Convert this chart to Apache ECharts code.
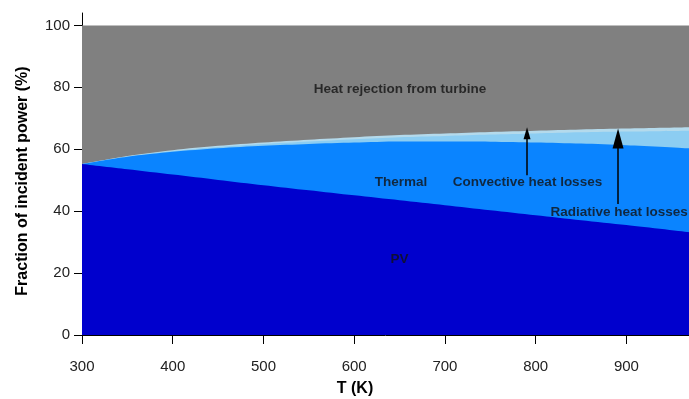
<!DOCTYPE html>
<html>
<head>
<meta charset="utf-8">
<script src="https://cdn.jsdelivr.net/npm/echarts@6/dist/echarts.min.js"></script>
<style>html,body{margin:0;padding:0;background:#fff}#c{width:689px;height:399px}</style>
</head>
<body>
<div id="c"></div>
<script>
// Temperature (K)
var T = [300, 350, 400, 450, 500, 550, 600, 650, 700, 750, 800, 850, 900, 969];
// Fractions of incident power (%) – stacked components
var pv          = [55.2, 53.5, 51.8, 50.1, 48.4, 46.75, 45.1, 43.5, 41.9, 40.3, 38.7, 37.1, 35.5, 33.2];
var thermal     = [0, 4.05, 7.35, 10.2, 12.7, 14.95, 17.05, 19.0, 20.6, 22.15, 23.5, 24.75, 25.8, 27.1];
var radiative   = [0, 0.1, 0.25, 0.4, 0.6, 0.8, 1.1, 1.4, 1.8, 2.3, 2.9, 3.6, 4.4, 5.7];
var convective  = [0, 0.15, 0.3, 0.4, 0.5, 0.6, 0.65, 0.7, 0.8, 0.85, 0.9, 0.95, 1.0, 1.1];
var rejection   = [44.8, 42.2, 40.3, 38.9, 37.8, 36.9, 36.1, 35.4, 34.9, 34.4, 34.0, 33.6, 33.3, 32.9];
// Axis ticks
var xTicks = [300, 400, 500, 600, 700, 800, 900];
var yTicks = [0, 20, 40, 60, 80, 100];
// Region labels [T, value, text]
var regionLabels = [
  [650.5, 79.4, 'Heat rejection from turbine'],
  [651.6, 49.4, 'Thermal'],
  [791, 49.4, 'Convective heat losses'],
  [892, 39.7, 'Radiative heat losses'],
  [650, 24.5, 'PV']
];
// Arrows [T, fromValue, toValue]
var convArrow = [790.5, 51.6, 65.2];
var radArrow = [890.8, 42.3, 63.5];

// cumulative tops of the stacked components (bottom to top)
var layers = [
  {name: 'PV', data: pv, color: '#0000CD'},
  {name: 'Thermal', data: thermal, color: '#0A84FF'},
  {name: 'Radiative heat losses', data: radiative, color: '#8CCDF2'},
  {name: 'Convective heat losses', data: convective, color: '#B4DAEC'},
  {name: 'Heat rejection from turbine', data: rejection, color: '#808080'}
];
var running = T.map(function () { return 0; });
layers.forEach(function (l) {
  running = running.map(function (s, i) { return s + l.data[i]; });
  l.top = running.slice();
});

var font = 'Liberation Sans, Arial, sans-serif';
var chart = echarts.init(document.getElementById('c'), null, {renderer: 'canvas'});

// draw from top layer down so lower layers paint over upper ones
var areaSeries = layers.slice().reverse().map(function (l, k) {
  return {
    name: l.name, type: 'line',
    data: l.top.map(function (v, i) { return [T[i], v]; }),
    showSymbol: false, symbol: 'none', smooth: 0.3,
    lineStyle: {width: 0}, areaStyle: {color: l.color, opacity: 1, origin: 'start'},
    itemStyle: {color: l.color}, silent: true, z: 2 + k * 0.01
  };
});

function arrowSeries(a, headSize, width) {
  return {
    type: 'line', data: [], silent: true, z: 5,
    markLine: {
      silent: true, animation: false,
      symbol: ['none', 'triangle'], symbolSize: headSize,
      label: {show: false},
      lineStyle: {color: '#000', width: width, type: 'solid'},
      data: [[{coord: [a[0], a[1]]}, {coord: [a[0], a[2]]}]]
    }
  };
}

chart.setOption({
  animation: false,
  backgroundColor: '#fff',
  grid: {left: 82, right: 0, top: 13, bottom: 64, containLabel: false},
  xAxis: {
    type: 'value', min: 300, max: 969, interval: 100,
    axisLine: {show: true, lineStyle: {color: '#000', width: 1}},
    axisTick: {show: true, inside: false, length: 9, lineStyle: {color: '#000'},
      customValues: xTicks},
    axisLabel: {color: '#222', fontSize: 15, fontFamily: font, margin: 24,
      customValues: xTicks},
    splitLine: {show: false}
  },
  yAxis: {
    type: 'value', min: 0, max: 104, interval: 20,
    axisLine: {show: true, lineStyle: {color: '#000', width: 1}},
    axisTick: {show: true, inside: false, length: 8, lineStyle: {color: '#000'},
      customValues: yTicks},
    axisLabel: {color: '#222', fontSize: 15, fontFamily: font, margin: 12,
      customValues: yTicks},
    splitLine: {show: false}
  },
  graphic: [
    {type: 'text', silent: true, x: 23, y: 181, rotation: Math.PI / 2,
      style: {text: 'Fraction of incident power (%)', fill: '#000',
        font: 'bold 16px ' + font, textAlign: 'center', textVerticalAlign: 'middle'}},
    {type: 'text', silent: true, x: 355, y: 389,
      style: {text: 'T (K)', fill: '#000', font: 'bold 16px ' + font,
        textAlign: 'center', textVerticalAlign: 'middle'}}
  ],
  series: areaSeries.concat([
    arrowSeries(convArrow, [7, 12], 1.5),
    arrowSeries(radArrow, [11, 20], 1.5),
    {
      type: 'scatter', symbolSize: 0, silent: true, z: 6,
      data: regionLabels.map(function (l) { return {value: [l[0], l[1]], name: l[2]}; }),
      label: {show: true, position: 'inside', formatter: '{b}', color: '#111',
        fontSize: 13.5, fontWeight: 'bold', fontFamily: font}
    }
  ])
});
</script>
</body>
</html>
